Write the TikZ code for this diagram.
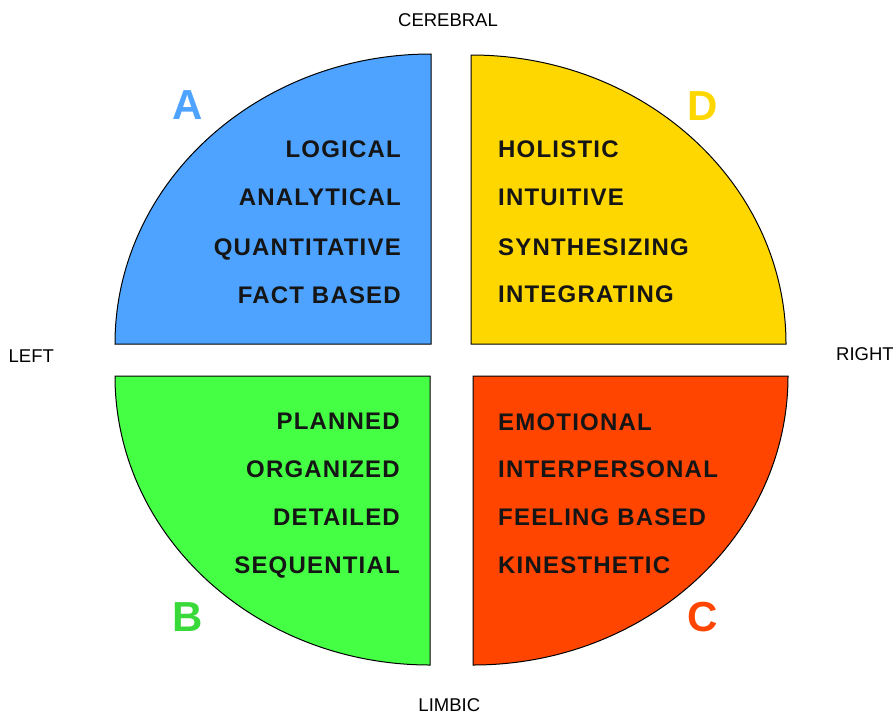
\documentclass[tikz,border=0pt]{standalone}
\usepackage{fontspec}
\setmainfont{Liberation Sans}
\definecolor{quadA}{HTML}{4DA3FF}
\definecolor{quadD}{HTML}{FFD700}
\definecolor{quadB}{HTML}{44FF44}
\definecolor{quadC}{HTML}{FF4500}
\definecolor{darktext}{HTML}{151515}
\begin{document}
\begin{tikzpicture}[x=1pt,y=1pt,
    quad/.style={draw=black,line width=1pt},
    word/.style={inner sep=0pt,text=darktext,font=\bfseries\fontsize{24}{24}\selectfont\addfontfeature{LetterSpace=5}},
    letter/.style={inner sep=0pt,anchor=base,font=\bfseries\fontsize{42}{42}\selectfont},
    side/.style={inner sep=0pt,anchor=base,font=\fontsize{18.5}{18.5}\selectfont}]
        \useasboundingbox (0,0) rectangle (893,-715);
        % quadrants
        \draw[quad,fill=quadA] (431,-344) -- (115,-344) arc[start angle=180,end angle=90,x radius=316pt,y radius=290pt] -- cycle;
        \draw[quad,fill=quadD] (471,-344) -- (471,-55) arc[start angle=90,end angle=0,x radius=315pt,y radius=289pt] -- cycle;
        \draw[quad,fill=quadB] (430,-376) -- (115,-376) arc[start angle=180,end angle=270,x radius=315pt,y radius=289pt] -- cycle;
        \draw[quad,fill=quadC] (473,-376) -- (473,-665) arc[start angle=270,end angle=360,x radius=315pt,y radius=289pt] -- cycle;
        % letters
        \node[letter,text=quadA] (a) at (188,-119) {A};
        \node[letter,text=quadD] (d) at (702.5,-120) {D};
        \node[letter,text=quadB!85!black] (b) at (187.5,-631) {B};
        \node[letter,text=quadC] (c) at (703,-631.5) {C};
        % A words
        \node[word,anchor=base east] (logical) at (401,-157) {LOGICAL};
        \node[word,anchor=base east] (analytical) at (401,-205) {ANALYTICAL};
        \node[word,anchor=base east] (quantitative) at (401,-255) {QUANTITATIVE};
        \node[word,anchor=base east] (fact) at (401,-303) {FACT BASED};
        % D words
        \node[word,anchor=base west] (holistic) at (498,-157) {HOLISTIC};
        \node[word,anchor=base west] (intuitive) at (498,-205) {INTUITIVE};
        \node[word,anchor=base west] (synthesizing) at (498,-255) {SYNTHESIZING};
        \node[word,anchor=base west] (integrating) at (498,-302) {INTEGRATING};
        % B words
        \node[word,anchor=base east] (planned) at (400,-429) {PLANNED};
        \node[word,anchor=base east] (organized) at (400,-477) {ORGANIZED};
        \node[word,anchor=base east] (detailed) at (400,-525.5) {DETAILED};
        \node[word,anchor=base east] (sequential) at (400,-573) {SEQUENTIAL};
        % C words
        \node[word,anchor=base west] (emotional) at (498,-430) {EMOTIONAL};
        \node[word,anchor=base west] (interpersonal) at (498,-477) {INTERPERSONAL};
        \node[word,anchor=base west] (feeling) at (498,-525.5) {FEELING BASED};
        \node[word,anchor=base west] (kinesthetic) at (498,-573) {KINESTHETIC};
        % sides
        \node[side] (cerebral) at (448,-26.5) {CEREBRAL};
        \node[side] (limbic) at (449.3,-711.5) {LIMBIC};
        \node[side] (left) at (31.3,-362) {LEFT};
        \node[side] (right) at (865,-360.5) {RIGHT};
\end{tikzpicture}
\end{document}
